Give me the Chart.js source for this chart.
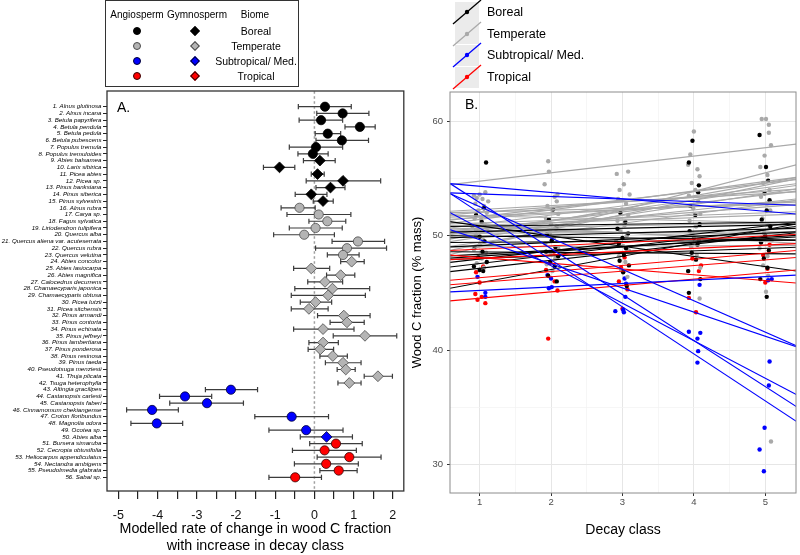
<!DOCTYPE html>
<html><head><meta charset="utf-8">
<script src="https://cdn.jsdelivr.net/npm/chart.js@4.4.1/dist/chart.umd.min.js"></script>
<style>
html,body{margin:0;padding:0;background:#fff;}
body{width:800px;height:555px;position:relative;overflow:hidden;font-family:"Liberation Sans",Arial,sans-serif;color:#000;}
canvas{position:absolute;top:0;}
#cA{left:0;}
#cB{left:405px;}
.t{position:absolute;white-space:nowrap;transform:translate(-50%,-50%);font-size:10.5px;line-height:1;}
.circ{position:absolute;width:8px;height:8px;border-radius:50%;border:1px solid #000;box-sizing:border-box;transform:translate(-50%,-50%);}
.dia{position:absolute;width:7px;height:7px;border:1px solid #000;box-sizing:border-box;transform:translate(-50%,-50%) rotate(45deg);}
#legA{position:absolute;left:105px;top:0px;width:194px;height:87px;border:1px solid #333;box-sizing:border-box;}
.kB{position:absolute;left:455px;width:24px;height:21px;background:#ebebeb;}
.kt{position:absolute;left:487px;font-size:12.5px;transform:translateY(-50%);white-space:nowrap;}
</style></head>
<body>
<div id="legA"></div>
<canvas id="cA" width="410" height="555"></canvas>
<canvas id="cB" width="395" height="555"></canvas>
<div id="legends"></div>
<script>
// ---------------- Panel A data ----------------
const speciesNames = ["Alnus glutinosa","Alnus incana","Betula papyrifera","Betula pendula","Betula pedula","Betula pubescens","Populus tremula","Populus tremuloides","Abies balsamea","Larix sibirica","Picea abies","Picea sp.","Pinus banksiana","Pinus siberica","Pinus sylvestris","Alnus rubra","Carya sp.","Fagus sylvatica","Liriodendron tulipifera","Quercus alba","Quercus aliena var. acuteserrata","Quercus rubra","Quercus velutina","Abies concolor","Abies lasiocarpa","Abies magnifica","Calocedrus decurrens","Chamaecyparis japonica","Chamaecyparis obtusa","Picea lutzii","Picea sitchensis","Pinus armandi","Pinus contorta","Pinus echinata","Pinus jeffreyi","Pinus lambertiana","Pinus ponderosa","Pinus resinosa","Pinus taeda","Pseudotsuga menziesii","Thuja plicata","Tsuga heterophylla","Altingia gracilipes","Castanopsis carlesii","Castanopsis faberi","Cinnamomum chekiangense","Croton floribundus","Magnolia odora","Ocotea sp.","Abies alba","Bursera simaruba","Cecropia obtusifolia","Heliocarpus appendiculatus","Nectandra ambigens","Pseudolmedia glabrata","Sabal sp."];
const speciesBiome = ["Boreal","Boreal","Boreal","Boreal","Boreal","Boreal","Boreal","Boreal","Boreal","Boreal","Boreal","Boreal","Boreal","Boreal","Boreal",
 "Temperate","Temperate","Temperate","Temperate","Temperate","Temperate","Temperate","Temperate","Temperate","Temperate","Temperate","Temperate","Temperate","Temperate","Temperate","Temperate","Temperate","Temperate","Temperate","Temperate","Temperate","Temperate","Temperate","Temperate","Temperate","Temperate","Temperate",
 "Subtropical","Subtropical","Subtropical","Subtropical","Subtropical","Subtropical","Subtropical","Subtropical",
 "Tropical","Tropical","Tropical","Tropical","Tropical","Tropical"];
const speciesClade = ["A","A","A","A","A","A","A","A","G","G","G","G","G","G","G",
 "A","A","A","A","A","A","A","A","G","G","G","G","G","G","G","G","G","G","G","G","G","G","G","G","G","G","G",
 "A","A","A","A","A","A","A","G","A","A","A","A","A","A"];
const rateOfChange = [0.27,0.72,0.17,1.16,0.34,0.70,0.04,-0.04,0.14,-0.89,0.08,0.73,0.41,-0.08,0.22,
 -0.38,0.11,0.33,0.03,-0.26,1.11,0.83,0.73,0.95,-0.08,0.67,0.27,0.46,0.35,0.03,-0.14,0.75,0.83,0.22,1.29,0.22,0.15,0.47,0.73,0.80,1.62,0.89,
 -2.13,-3.30,-2.74,-4.14,-0.58,-4.02,-0.21,0.31,
 0.55,0.26,0.89,0.30,0.62,-0.49];
const ciLow = [-0.41,0.06,-0.39,0.78,0.02,0.04,-0.64,-0.42,-0.28,-1.30,-0.08,-0.21,0.04,-0.49,-0.03,
 -0.85,-0.70,-0.14,-0.64,-1.04,0.45,0.03,0.33,0.67,-0.53,0.31,-0.17,-0.50,-0.59,-0.36,-0.59,0.08,0.40,-0.53,0.48,-0.14,-0.16,0.14,0.28,0.58,1.27,0.60,
 -2.78,-3.95,-3.69,-4.79,-1.52,-4.68,-1.16,-0.36,
 -0.12,-0.56,0.07,-0.51,0.14,-1.16];
const ciHigh = [0.94,1.39,0.72,1.55,0.67,1.38,0.72,0.35,0.53,-0.50,0.25,1.69,0.78,0.32,0.48,
 0.02,0.93,0.80,0.71,0.51,1.79,1.84,1.14,1.27,0.39,1.03,0.72,1.41,1.30,0.44,0.35,1.42,1.27,1.01,2.10,0.61,0.49,0.84,1.19,1.04,1.99,1.19,
 -1.45,-2.62,-1.81,-3.47,0.36,-3.36,0.73,0.97,
 1.22,1.07,1.70,1.12,1.09,0.18];
const xTicksA = [-5,-4.5,-4,-3.5,-3,-2.5,-2,-1.5,-1,-0.5,0,0.5,1,1.5,2];

// ---------------- Panel B data ----------------
const decayTicks = [1,1.5,2,2.5,3,3.5,4,4.5,5];
const woodCTicks = [30,35,40,45,50,55,60];
const lineEnds = [0.5,5.5];            // decay class where each fitted line is read
// fitted lines: [value at 0.5, value at 5.5]
const borealLines = [[49.0,50.35],[47.6,51.2],[49.8,50.65],[45.3,51.1],[48.2,49.9],[46.8,50.3],[49.4,49.6],[48.6,48.4],[50.3,51.0],[51.3,46.85],[50.8,51.2],[47.2,50.85],[48.0,50.05],[50.0,49.6],[47.9,49.0]];
const temperateLines = [[51.2,49.3],[50.6,51.15],[51.4,53.05],[50.2,50.35],[50.9,49.6],[49.6,55.15],[51.0,55.15],[54.4,58.05],[49.4,54.15],[50.5,50.1],[49.9,53.25],[51.6,52.95],[51.8,54.1],[52.1,53.85],[49.0,49.15],[51.8,51.1],[50.2,53.95],[49.0,53.15],[50.8,51.9],[48.6,55.05],[51.0,52.1],[52.0,52.75],[50.4,52.75],[51.3,54.95],[50.6,54.6],[48.2,56.3],[50.0,54.45]];
const subtropLines = [[54.9,34.8],[54.05,33.5],[53.9,40.2],[52.3,35.9],[50.7,40.15],[54.6,51.85],[53.76,52.64],[45.06,46.57]];
const tropicalLines = [[48.68,50.12],[47.88,49.32],[46.05,48.74],[45.66,48.13],[44.25,47.04],[48.34,45.82]];
// observations [decay class (jittered), wood C %]
const borealPts = [[1.09,56.4],[1.03,51.2],[0.95,50.5],[1.0,49.9],[1.07,49.5],[0.93,49.0],[1.04,48.6],[0.98,48.1],[1.1,47.7],[0.92,47.3],[1.05,46.9],[1.0,47.0],[0.95,51.8],[1.06,52.4],
 [2.03,52.3],[1.97,51.4],[2.08,50.8],[1.94,50.1],[2.01,49.6],[2.06,49.0],[1.93,48.6],[2.1,48.2],[1.99,47.7],[2.05,47.3],[1.96,46.5],[2.08,46.0],
 [2.97,52.0],[3.04,51.2],[2.93,50.6],[3.08,50.2],[3.0,49.8],[2.95,49.3],[3.05,48.9],[3.02,48.3],[2.96,47.8],[3.09,47.4],[3.01,46.8],[3.06,45.6],
 [3.98,58.3],[3.93,56.4],[4.07,54.4],[4.06,53.8],[3.95,52.6],[4.02,51.8],[4.08,51.0],[3.94,50.4],[4.0,49.8],[4.05,49.2],[3.97,48.5],[4.03,47.9],[3.92,46.9],[4.09,46.2],[3.93,45.0],
 [4.92,58.8],[5.01,56.0],[5.04,54.8],[4.99,53.7],[5.06,53.1],[5.02,52.2],[4.95,51.4],[5.07,50.8],[5.0,50.0],[4.94,49.4],[5.05,48.7],[4.98,48.0],[5.03,47.2],[5.02,44.65],[4.93,46.2]];
const temperatePts = [[0.92,53.5],[0.96,53.3],[1.0,53.6],[1.04,53.2],[1.08,53.8],[0.94,52.8],[1.06,52.6],[0.98,52.2],[1.1,52.0],[0.93,51.5],[1.02,51.4],[1.07,51.0],[0.97,50.6],[1.11,50.4],[0.95,50.0],[1.05,49.6],[1.0,49.2],[0.92,48.8],[1.09,48.5],[1.03,48.0],[0.96,47.6],[1.06,47.2],[1.12,53.0],[0.9,50.8],
 [1.96,56.5],[1.91,54.5],[1.97,55.6],[2.05,53.4],[2.08,53.0],[1.95,52.6],[2.02,52.2],[2.1,51.9],[1.93,51.5],[2.0,51.0],[2.07,50.6],[1.98,50.2],[2.04,49.8],[1.92,49.3],[2.1,48.9],[1.99,48.5],[2.06,48.0],[1.94,47.5],[2.02,46.9],[2.09,53.6],
 [2.92,55.4],[3.08,55.6],[2.96,54.0],[3.02,54.5],[3.1,53.6],[2.94,53.2],[3.05,52.8],[2.99,52.3],[3.08,51.8],[2.93,51.3],[3.03,50.9],[2.97,50.4],[3.06,50.0],[2.91,49.5],[3.01,49.1],[3.09,48.7],[2.95,48.2],[3.04,47.7],[2.98,47.0],[3.07,46.4],
 [4.0,59.1],[3.95,57.1],[3.92,56.2],[4.05,55.8],[4.08,55.2],[3.97,54.6],[4.02,54.0],[3.93,53.5],[4.06,53.0],[3.99,52.4],[4.09,51.9],[3.94,51.3],[4.03,50.8],[3.98,50.2],[4.07,49.6],[3.96,49.0],[4.04,48.3],[4.09,47.2],[3.92,46.9],[4.08,44.5],
 [4.95,60.2],[5.01,60.2],[5.05,59.7],[5.05,59.0],[5.08,57.9],[4.99,57.0],[4.93,56.0],[5.03,55.3],[4.97,54.6],[5.06,54.0],[4.94,53.4],[5.02,52.8],[5.07,52.2],[4.96,51.5],[5.04,50.9],[4.98,50.2],[5.09,49.6],[4.92,48.9],[5.03,48.2],[5.04,46.5],[5.01,45.1],[5.08,32.0],[4.97,47.4]];
const subtropPts = [[0.97,46.4],[1.08,45.0],[1.08,44.65],
 [1.95,46.55],[2.0,46.26],[1.97,45.4],[2.01,45.5],
 [2.9,43.4],[3.01,43.5],[3.02,43.3],[3.04,44.65],[3.03,46.26],[3.05,45.8],
 [3.93,41.6],[4.05,41.0],[4.09,41.5],[4.06,39.9],[4.05,38.9],[4.08,45.7],
 [4.99,33.2],[4.92,31.3],[4.98,29.4],[5.06,39.0],[5.05,36.9],[5.09,46.2],[5.04,46.1]];
const tropicalPts = [[0.94,44.9],[0.97,44.4],[1.03,44.65],[1.08,44.1],[0.95,46.8],[1.05,47.3],[1.0,45.9],
 [1.96,41.0],[2.09,45.2],[2.05,46.0],[1.98,47.6],[2.04,48.6],[1.93,47.0],
 [2.95,46.0],[3.0,43.6],[3.07,45.3],[2.98,47.2],[3.03,48.1],
 [3.93,44.56],[4.03,43.3],[4.07,46.9],[3.98,48.0],[4.1,47.4],
 [5.03,47.1],[4.97,48.3],[5.06,49.2],[5.0,45.9]];

// ---------------- styles ----------------
const FONT = "'Liberation Sans', Arial, sans-serif";
const fillA = {Boreal:'#000000',Temperate:'#b4b4b4',Subtropical:'#0000ff',Tropical:'#ff0000'};
const edgeA = {Boreal:'#000000',Temperate:'#4a4a4a',Subtropical:'#000033',Tropical:'#330000'};
const colB = {Boreal:'#000000',Temperate:'#a9a9a9',Subtropical:'#0000ff',Tropical:'#ff0000'};
const biomeOrder = ['Boreal','Temperate','Subtropical','Tropical'];
const biomeLabel = {Boreal:'Boreal',Temperate:'Temperate',Subtropical:'Subtropical/ Med.',Tropical:'Tropical'};

// ---------------- legends (HTML) ----------------
(function(){
  const L = document.getElementById('legends');
  let h = '';
  h += `<div class="t" style="left:137px;top:15px;font-size:10px">Angiosperm</div>`;
  h += `<div class="t" style="left:197px;top:15px;font-size:10px">Gymnosperm</div>`;
  h += `<div class="t" style="left:255px;top:15px;font-size:10px">Biome</div>`;
  const ys=[30.5,45.5,60.5,75.5];
  biomeOrder.forEach((b,i)=>{
    h += `<div class="circ" style="left:137px;top:${ys[i]}px;background:${fillA[b]};border-color:${edgeA[b]}"></div>`;
    h += `<div class="dia" style="left:194.5px;top:${ys[i]}px;background:${fillA[b]};border-color:${edgeA[b]}"></div>`;
    h += `<div class="t" style="left:256px;top:${ys[i]}px">${biomeLabel[b]}</div>`;
  });
  const ks=[12,33.5,55,77];
  biomeOrder.forEach((b,i)=>{
    h += `<div class="kB" style="top:${ks[i]-10.5}px"></div>`;
    h += `<svg style="position:absolute;left:450px;top:${ks[i]-15}px" width="34" height="30"><line x1="3" y1="27" x2="31" y2="3" stroke="${colB[b]}" stroke-width="1.3"/><circle cx="17" cy="15" r="2.2" fill="${colB[b]}"/></svg>`;
    h += `<div class="kt" style="top:${ks[i]}px">${biomeLabel[b]}</div>`;
  });
  L.innerHTML = h;
})();

// ---------------- plugins ----------------
const framePlugin = (color,width,label,lx,ly)=>({
  id:'frame'+label,
  afterDraw(chart){
    const {ctx,chartArea:a}=chart;
    ctx.save();
    ctx.strokeStyle=color;ctx.lineWidth=width;
    ctx.strokeRect(a.left,a.top,a.right-a.left,a.bottom-a.top);
    ctx.fillStyle='#000';ctx.font=`14px ${FONT}`;ctx.textBaseline='middle';
    ctx.fillText(label,a.left+lx,a.top+ly);
    ctx.restore();
  }
});

// ---------------- Panel A ----------------
const rows = speciesNames.map((n,i)=>i+1);
const tickLabelsA = speciesNames.map((n,i)=>`${i+1}. ${n}`);
const whisker = [], caps = [];
rows.forEach((r,i)=>{
  whisker.push({x:ciLow[i],y:r},{x:ciHigh[i],y:r},{x:null,y:null});
  caps.push({x:ciLow[i],y:r},{x:ciHigh[i],y:r});
});
const markerSets = [];
biomeOrder.forEach(b=>{
  ['A','G'].forEach(c=>{
    const d = rows.filter((r,i)=>speciesBiome[i]===b && speciesClade[i]===c).map(r=>({x:rateOfChange[r-1],y:r}));
    if(!d.length) return;
    markerSets.push({type:'scatter',data:d,pointStyle:c==='A'?'circle':'rectRot',pointRadius:c==='A'?4.6:5.4,
      backgroundColor:fillA[b],borderColor:edgeA[b],borderWidth:0.8,order:1});
  });
});
new Chart(document.getElementById('cA'),{
  type:'scatter',
  data:{datasets:[
    {type:'line',data:[{x:0,y:-5},{x:0,y:65}],borderColor:'#a0a0a0',borderDash:[2.5,2.5],borderWidth:1.5,pointRadius:0,order:5},
    {type:'line',data:whisker,borderColor:'#3c3c3c',borderWidth:1.2,pointRadius:0,spanGaps:false,order:4},
    {type:'scatter',data:caps,pointStyle:'line',rotation:90,pointRadius:2.6,borderColor:'#3c3c3c',borderWidth:1.2,order:3},
    ...markerSets
  ]},
  options:{
    responsive:false,animation:false,devicePixelRatio:1,
    layout:{padding:{top:91,right:4,left:0,bottom:0}},
    plugins:{legend:{display:false},tooltip:{enabled:false}},
    scales:{
      x:{type:'linear',min:-5.29,max:2.28,
        afterBuildTicks:s=>{s.ticks=xTicksA.map(v=>({value:v}));},
        afterFit:s=>{s.height=64;},
        border:{display:false},
        grid:{drawOnChartArea:false,drawTicks:true,tickLength:8,tickColor:'#222',lineWidth:1.2},
        ticks:{autoSkip:false,maxRotation:0,padding:9,color:'#111',font:{family:FONT,size:12.5},
          callback:v=>Number.isInteger(v)?String(v):''},
        title:{display:true,text:['Modelled rate of change in wood C fraction','with increase in decay class'],
          color:'#000',font:{family:FONT,size:14.3,lineHeight:1.2},padding:{top:0,bottom:0}}
      },
      y:{type:'linear',min:-1.33,max:58.03,reverse:true,
        afterBuildTicks:s=>{s.ticks=rows.map(v=>({value:v}));},
        afterFit:s=>{s.width=107;},
        border:{display:false},
        grid:{drawOnChartArea:false,drawTicks:true,tickLength:4,tickColor:'#222',lineWidth:1},
        ticks:{autoSkip:false,padding:1.5,color:'#000',font:{family:FONT,size:6.2,style:'italic'},
          callback:v=>tickLabelsA[v-1]}
      }
    }
  },
  plugins:[framePlugin('#333',1.3,'A.',10,17)]
});

// ---------------- Panel B ----------------
const dsB = [];
const ptsBy = {Boreal:borealPts,Temperate:temperatePts,Subtropical:subtropPts,Tropical:tropicalPts};
const linesBy = {Boreal:borealLines,Temperate:temperateLines,Subtropical:subtropLines,Tropical:tropicalLines};
const lineOrder = {Temperate:9,Boreal:8,Tropical:7,Subtropical:6};
biomeOrder.forEach(b=>{
  dsB.push({type:'scatter',data:ptsBy[b].map(p=>({x:p[0],y:p[1]})),pointRadius:2.2,pointStyle:'circle',
    backgroundColor:colB[b],borderWidth:0,order:10+biomeOrder.indexOf(b)});
});
biomeOrder.forEach(b=>{
  linesBy[b].forEach(l=>{
    dsB.push({type:'line',data:[{x:lineEnds[0],y:l[0]},{x:lineEnds[1],y:l[1]}],borderColor:colB[b],
      borderWidth:1.1,pointRadius:0,order:lineOrder[b]});
  });
});
const isMaj = v=>Number.isInteger(v);
new Chart(document.getElementById('cB'),{
  type:'scatter',
  data:{datasets:dsB},
  options:{
    responsive:false,animation:false,devicePixelRatio:1,
    layout:{padding:{top:92,right:1,left:0,bottom:0}},
    plugins:{legend:{display:false},tooltip:{enabled:false}},
    scales:{
      x:{type:'linear',min:0.585,max:5.43,
        afterBuildTicks:s=>{s.ticks=decayTicks.map(v=>({value:v}));},
        afterFit:s=>{s.height=62;},
        border:{display:false},
        grid:{color:c=>isMaj(c.tick&&c.tick.value)?'#e6e6e6':'#f2f2f2',lineWidth:c=>isMaj(c.tick&&c.tick.value)?1:0.7,
          tickColor:c=>isMaj(c.tick&&c.tick.value)?'#333':'rgba(0,0,0,0)',tickLength:3},
        ticks:{autoSkip:false,maxRotation:0,padding:1,color:'#4d4d4d',font:{family:FONT,size:9.5},
          callback:v=>isMaj(v)?String(v):''},
        title:{display:true,text:'Decay class',color:'#000',font:{family:FONT,size:14},padding:{top:0,bottom:16}}
      },
      y:{type:'linear',min:27.5,max:62.56,
        afterBuildTicks:s=>{s.ticks=woodCTicks.map(v=>({value:v}));},
        afterFit:s=>{s.width=45;},
        border:{display:false},
        grid:{color:c=>(c.tick&&c.tick.value%10===0)?'#e6e6e6':'#f2f2f2',lineWidth:c=>(c.tick&&c.tick.value%10===0)?1:0.7,
          tickColor:c=>(c.tick&&c.tick.value%10===0)?'#333':'rgba(0,0,0,0)',tickLength:3},
        ticks:{autoSkip:false,padding:4,color:'#4d4d4d',font:{family:FONT,size:9.5},
          callback:v=>v%10===0?String(v):''},
        title:{display:true,text:'Wood C fraction (% mass)',color:'#000',font:{family:FONT,size:13},padding:{top:5,bottom:0}}
      }
    }
  },
  plugins:[framePlugin('#8c8c8c',1,'B.',15,13)]
});
</script>
</body></html>
